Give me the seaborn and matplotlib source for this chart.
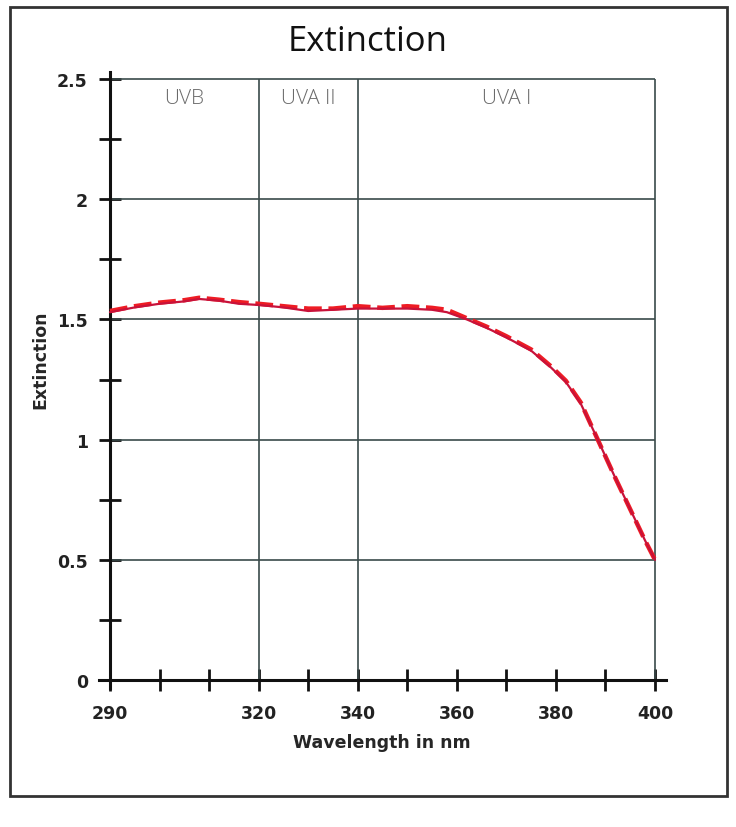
import matplotlib
matplotlib.use("Agg")
import matplotlib.pyplot as plt
import seaborn as sns
import pandas as pd
from matplotlib.patches import Rectangle
from matplotlib.ticker import FixedLocator

# ---- data ----
wavelength = [290, 295, 300, 305, 308, 312, 316, 320, 325, 330, 335, 340, 345, 350, 355, 358,
              362, 366, 370, 375, 379, 382, 385, 388, 390, 392, 395, 398, 400]
ext_solid = [1.53, 1.55, 1.565, 1.575, 1.585, 1.578, 1.565, 1.56, 1.55, 1.535, 1.54, 1.545, 1.545,
             1.545, 1.54, 1.53, 1.50, 1.465, 1.425, 1.37, 1.30, 1.24, 1.15, 1.02, 0.93, 0.84,
             0.71, 0.58, 0.50]
ext_dashed = [1.535, 1.555, 1.57, 1.58, 1.59, 1.582, 1.572, 1.565, 1.555, 1.545, 1.545, 1.555, 1.548,
              1.555, 1.548, 1.54, 1.505, 1.47, 1.43, 1.375, 1.305, 1.245, 1.155, 1.02, 0.93, 0.84,
              0.71, 0.58, 0.50]
regions = ["UVB", "UVA II", "UVA I"]
region_centers = [305, 330, 370]
region_bounds = [320, 340]
x_labeled = [290, 320, 340, 360, 380, 400]
x_minor = [300, 310, 330, 350, 370, 390]
y_major = [0, 0.5, 1, 1.5, 2, 2.5]
y_minor = [0.25, 0.75, 1.25, 1.75, 2.25]

sns.set_style("white")
plt.rcParams['font.family'] = ['DejaVu Sans']

XL, XR = 287.8, 402.2
YB, YT = -0.035, 2.53
px_per_nm = 545 / 110
px_per_unit = 601 / 2.5
left_px = 110 - (290 - XL) * px_per_nm
width_px = (XR - XL) * px_per_nm
bottom_px = 681 + (0 - YB) * px_per_unit
height_px = (YT - YB) * px_per_unit

fig = plt.figure(figsize=(7.36, 8.28), dpi=100)
ax = fig.add_axes([left_px/736, 1-bottom_px/828, width_px/736, height_px/828])

df_s = pd.DataFrame({"x": wavelength, "y": ext_solid})
df_d = pd.DataFrame({"x": wavelength, "y": ext_dashed})
sns.lineplot(data=df_d, x="x", y="y", ax=ax, color="#ee1c24", lw=3.2, linestyle=(0, (4, 1.5)), zorder=3)
sns.lineplot(data=df_s, x="x", y="y", ax=ax, color="#c8123a", lw=1.6, zorder=4)

ax.set_xlim(XL, XR)
ax.set_ylim(YB, YT)

for yv in [0.5, 1, 1.5, 2, 2.5]:
    ax.hlines(yv, 290, 400, color="#3a4a4a", lw=1.2, zorder=1)
for xv in region_bounds + [400]:
    ax.vlines(xv, 0, 2.5, color="#3a4a4a", lw=1.2, zorder=1)

for s in ["top", "right"]:
    ax.spines[s].set_visible(False)
ax.spines["left"].set_position(("data", 290))
ax.spines["bottom"].set_position(("data", 0))
ax.spines["left"].set_bounds(YB, YT)
ax.spines["bottom"].set_bounds(XL, XR)
for s in ["left", "bottom"]:
    ax.spines[s].set_linewidth(2.2)
    ax.spines[s].set_color("#111111")

ax.xaxis.set_major_locator(FixedLocator(x_labeled))
ax.xaxis.set_minor_locator(FixedLocator(x_minor))
ax.yaxis.set_major_locator(FixedLocator(y_major))
ax.yaxis.set_minor_locator(FixedLocator(y_minor))
ax.set_xticklabels([str(v) for v in x_labeled])
ax.set_yticklabels(["0", "0.5", "1", "1.5", "2", "2.5"])
ax.tick_params(which="both", direction="inout", length=16, width=2, color="#111111",
               bottom=True, left=True, labelsize=12.5)
ax.tick_params(axis="x", pad=9)
ax.tick_params(axis="y", pad=8)
for lab in ax.get_xticklabels() + ax.get_yticklabels():
    lab.set_fontweight("bold")
    lab.set_color("#222222")

ax.set_xlabel("Wavelength in nm", fontsize=12.5, fontweight="bold")
ax.set_ylabel("Extinction", fontsize=12.5, fontweight="bold")
ax.xaxis.set_label_coords((382 - left_px) / width_px, (bottom_px - 743) / height_px)
ax.yaxis.set_label_coords((40 - left_px) / width_px, (bottom_px - 360) / height_px)
ax.xaxis.label.set_va("center")
ax.yaxis.label.set_va("center")

for name, c in zip(regions, region_centers):
    ax.text(c, 2.42, name, ha="center", va="center", fontsize=15, color="#6a6a6a",
            family=['Open Sans', 'DejaVu Sans'], fontweight="light")

fig.text(368/736, 1-42/828, "Extinction", ha="center", va="center", fontsize=25,
         family=['Open Sans', 'DejaVu Sans'], color="#111111", fontweight="medium")

fig.patches.append(Rectangle((10/736, 1-797/828), 717/736, 789/828, transform=fig.transFigure,
                             fill=False, lw=2, edgecolor="#333333"))

fig.savefig("out.png", dpi=100)
